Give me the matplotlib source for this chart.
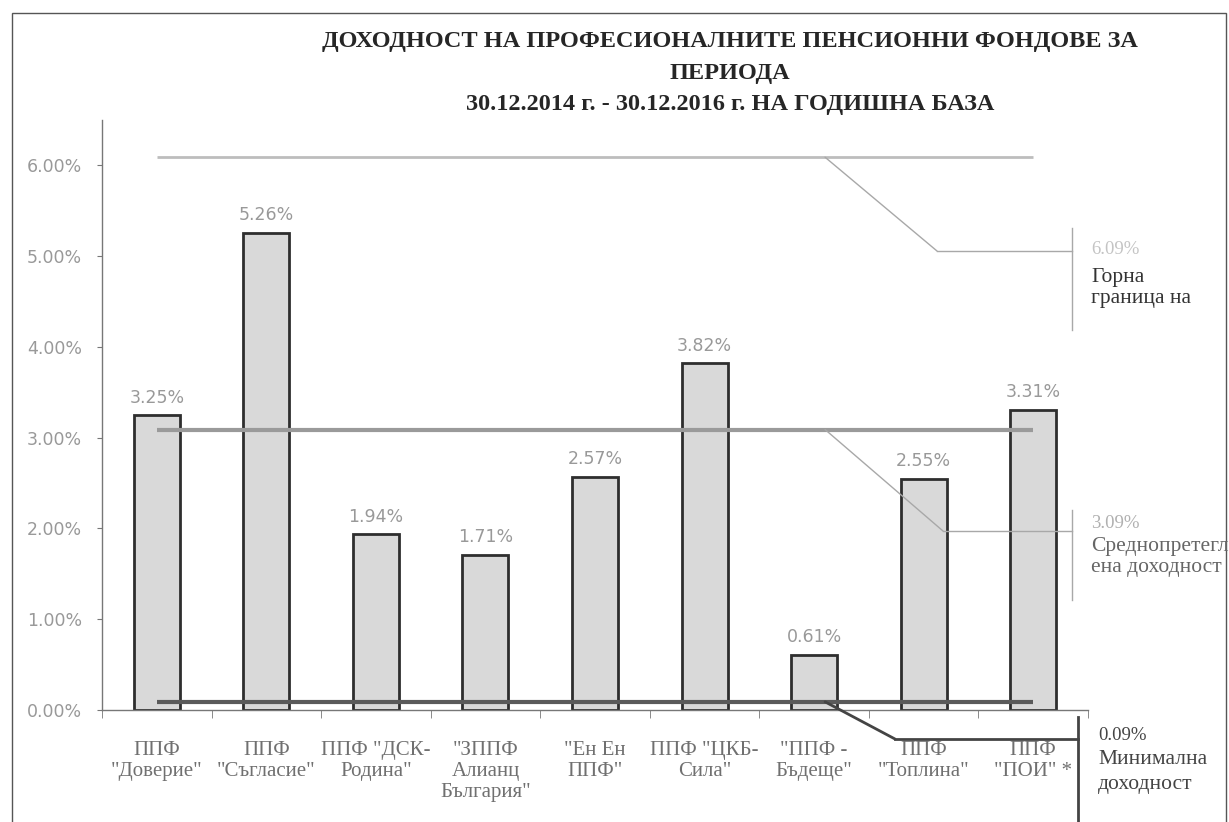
#!/usr/bin/env python3
import matplotlib

matplotlib.use("Agg")
import matplotlib.pyplot as plt
from matplotlib.lines import Line2D
from matplotlib.patches import Rectangle
from matplotlib.ticker import FuncFormatter, FixedLocator

# data
funds = [
    'ППФ\n"Доверие"',
    'ППФ\n"Съгласие"',
    'ППФ "ДСК-\nРодина"',
    '"ЗППФ\nАлианц\nБългария"',
    '"Ен Ен\nППФ"',
    'ППФ "ЦКБ-\nСила"',
    '"ППФ -\nБъдеще"',
    'ППФ\n"Топлина"',
    'ППФ\n"ПОИ" *',
]
returns = [3.25, 5.26, 1.94, 1.71, 2.57, 3.82, 0.61, 2.55, 3.31]
upper_limit = 6.09
weighted_avg = 3.09
min_return = 0.09
level_names = ["Горна\nграница на", "Среднопретегл\nена доходност", "Минимална\nдоходност"]

title_lines = [
    "ДОХОДНОСТ НА ПРОФЕСИОНАЛНИТЕ ПЕНСИОННИ ФОНДОВЕ ЗА",
    "ПЕРИОДА",
    "30.12.2014 г. - 30.12.2016 г. НА ГОДИШНА БАЗА",
]

W, H = 1229, 822
SERIF = ["Liberation Serif", "DejaVu Serif"]
SANS = ["DejaVu Sans"]

fig = plt.figure(figsize=(W / 100, H / 100), dpi=100)
fig.patch.set_facecolor("white")


def fx(px):
    return px / W


def fy(py):
    return 1 - py / H


ax = fig.add_axes([fx(102), fy(710), fx(1088) - fx(102), fy(120) - fy(710)])
x = list(range(len(funds)))

ax.bar(x, returns, width=0.42, color="#d9d9d9", edgecolor="#2e2e2e", linewidth=2.0, zorder=2)
for xi, v in zip(x, returns):
    ax.annotate(f"{v:.2f}%", (xi, v), xytext=(0, 6), textcoords="offset points",
                ha="center", va="bottom", fontsize=12.5, color="#999999", family=SANS)

levels = [upper_limit, weighted_avg, min_return]
level_colors = ["#bdbdbd", "#9a9a9a", "#5a5a5a"]
level_widths = [2.0, 3.0, 3.0]
for lev, c, lw in zip(levels, level_colors, level_widths):
    ax.plot(x, [lev] * len(x), color=c, linewidth=lw, zorder=3, solid_capstyle="butt")

ax.set_xlim(-0.5, len(funds) - 0.5)
ax.set_ylim(0, 6.5)
ax.yaxis.set_major_locator(FixedLocator([0, 1, 2, 3, 4, 5, 6]))
ax.yaxis.set_major_formatter(FuncFormatter(lambda v, _: f"{v:.2f}%"))
ax.set_xticks(x)
ax.set_xticklabels(funds, family=SERIF, fontsize=15, color="#707070", linespacing=1.15)
ax.set_xticks([i + 0.5 for i in x[:-1]] + [-0.5, len(funds) - 0.5], minor=True)
ax.tick_params(axis="x", which="major", length=0, pad=22)
ax.tick_params(axis="x", which="minor", length=5.5, color="#777777", direction="out")
ax.tick_params(axis="y", length=3.5, color="#777777", labelcolor="#999999", labelsize=12.5, pad=11)
for lab in ax.get_yticklabels():
    lab.set_family(SANS)
for side in ["top", "right"]:
    ax.spines[side].set_visible(False)
for side in ["left", "bottom"]:
    ax.spines[side].set_color("#777777")
    ax.spines[side].set_linewidth(1.0)

# leader lines from the level lines to their labels on the right
leaders = [
    # level, elbow (px), bracket x, bracket y range, line colour, width
    (upper_limit, (937, 251), 1072, (228, 330), "#a8a8a8", 1.0),
    (weighted_avg, (943, 531), 1072, (510, 600), "#a8a8a8", 1.0),
    (min_return, (895, 739), 1078, (717, 822), "#444444", 2.0),
]
for lev, (ex, ey), bx, (b0, b1), c, lw in leaders:
    ax.annotate("", xy=(6.1, lev), xycoords="data", xytext=(ex, H - ey),
                textcoords="figure pixels",
                arrowprops=dict(arrowstyle="-", color=c, lw=lw, shrinkA=0, shrinkB=0))
    fig.add_artist(Line2D([fx(ex), fx(bx)], [fy(ey), fy(ey)], color=c, lw=lw))
    fig.add_artist(Line2D([fx(bx), fx(bx)], [fy(b0), fy(b1)], color=c, lw=lw))

label_style = [
    # number pos, name block centre y, number colour, name colour, line spacing
    ((1091, 250), 288, "#c4c4c4", "#333333", 1.2),
    ((1091, 524), 557, "#b0b0b0", "#666666", 1.1),
    ((1098, 735), 772, "#444444", "#444444", 1.4),
]
for lev, name, ((tx, ty), ny, cnum, cname, ls) in zip(levels, level_names, label_style):
    fig.text(fx(tx), fy(ty), f"{lev:.2f}%", ha="left", va="center",
             fontsize=13.5, color=cnum, family=SERIF)
    fig.text(fx(tx), fy(ny), name, ha="left", va="center",
             fontsize=15.5, color=cname, family=SERIF, linespacing=ls)

# title, centred over the plot as in the scan
for line, cy in zip(title_lines, [42, 73, 104]):
    fig.text(fx(730), fy(cy), line, ha="center", va="center",
             fontsize=17.5, fontweight="bold", color="#262626", family=SERIF)

# outer chart frame
fig.add_artist(Rectangle((fx(12), fy(840)), fx(1226) - fx(12), fy(13) - fy(840),
                         transform=fig.transFigure, fill=False,
                         edgecolor="#555555", linewidth=1.0))

fig.savefig("out.png", dpi=100)
plt.close(fig)
